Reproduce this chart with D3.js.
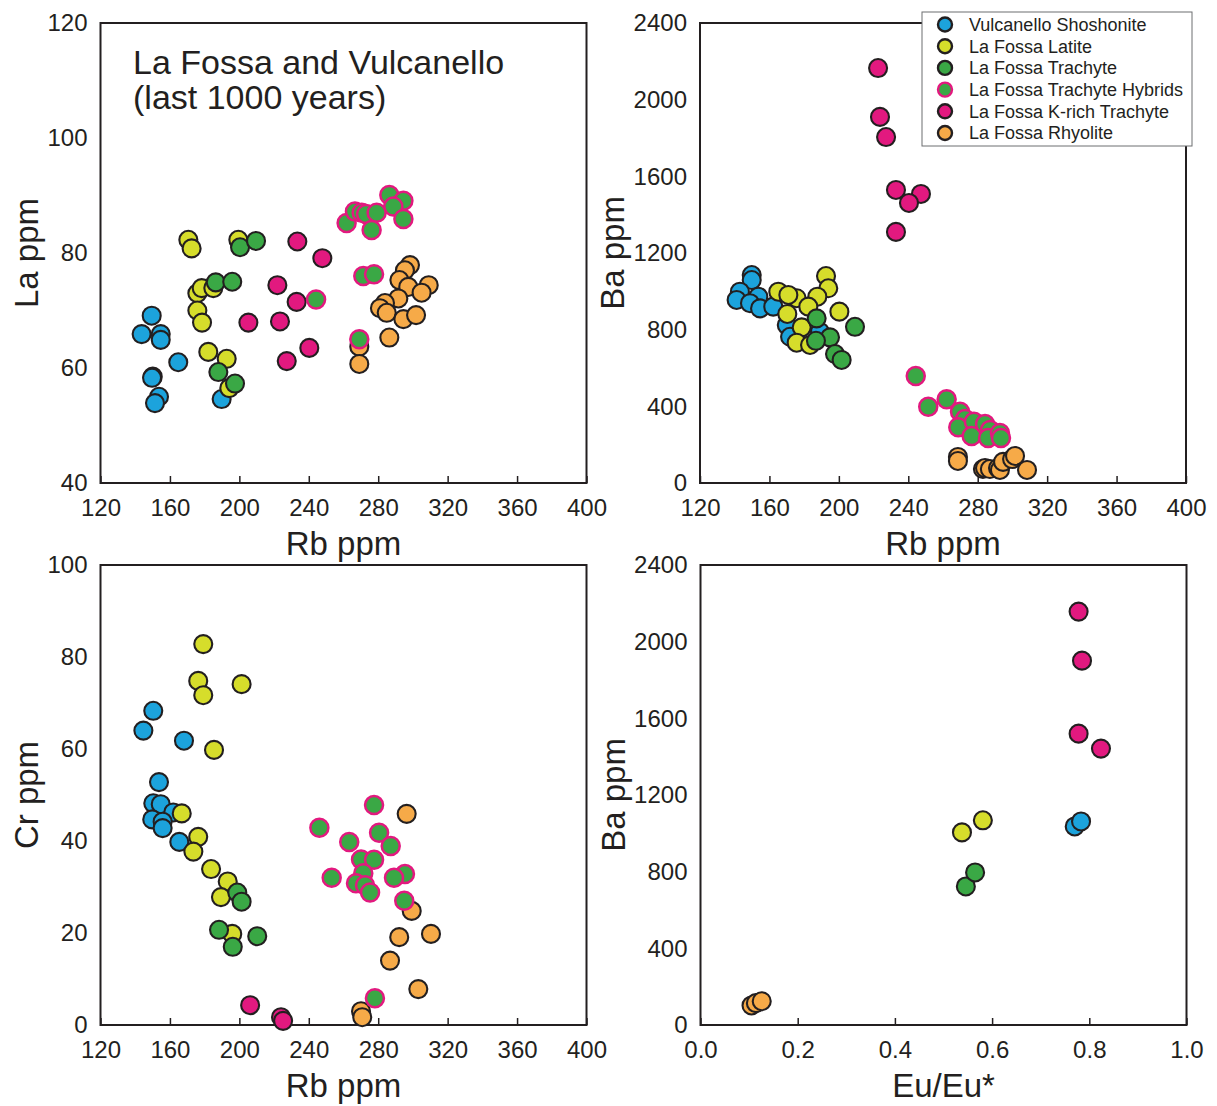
<!DOCTYPE html>
<html>
<head>
<meta charset="utf-8">
<script src="https://cdn.jsdelivr.net/npm/d3@7"></script>
<style>
  body { margin: 0; background: #fff; }
  svg text { font-family: "Liberation Sans", Arial, Helvetica, sans-serif; fill: #231f20; }
</style>
</head>
<body>
<div id="chart"></div>
<script>
// tick labels
var rbTicks = [120, 160, 200, 240, 280, 320, 360, 400];
var laTicks = [40, 60, 80, 100, 120];
var baTicks = [0, 400, 800, 1200, 1600, 2000, 2400];
var crTicks = [0, 20, 40, 60, 80, 100];
var euTicks = [0, 0.2, 0.4, 0.6, 0.8, 1.0];

var seriesNames = ["Vulcanello Shoshonite", "La Fossa Latite", "La Fossa Trachyte",
                   "La Fossa Trachyte Hybrids", "La Fossa K-rich Trachyte", "La Fossa Rhyolite"];

// ---- La vs Rb  [Rb, La]
var shoshRbLa = [[149.5,69.1],[143.7,65.9],[154.7,65.9],[154.7,64.9],[164.8,61.0],[150.1,58.5],[149.7,58.3],[153.7,55.0],[151.4,53.9],[189.8,54.6]];
var latiteRbLa = [[170.6,82.3],[172.5,80.8],[199.4,82.3],[175.8,73.0],[178.3,73.9],[185.0,73.9],[175.8,70.0],[178.5,67.9],[182.1,62.8],[192.7,61.6],[194.2,56.5]];
var trachRbLa = [[200.4,81.0],[209.6,82.1],[186.4,74.9],[195.9,75.0],[187.9,59.3],[197.5,57.3]];
var hybridRbLa = [[244.2,71.9],[261.8,85.2],[266.6,87.2],[270.5,87.0],[273.0,86.8],[279.1,87.0],[276.2,84.0],[286.4,90.1],[294.5,89.1],[288.7,88.1],[294.5,85.9],[271.4,76.0],[277.6,76.3],[269.1,65.0]];
var kTrachRbLa = [[233.4,82.0],[247.8,79.1],[221.9,74.4],[233.0,71.5],[205.2,67.9],[223.4,68.1],[240.3,63.5],[227.3,61.2]];
var rhyoRbLa = [[269.1,63.7],[269.1,60.7],[298.3,77.9],[295.4,77.0],[292.2,75.3],[297.3,74.1],[309.1,74.4],[305.0,73.1],[291.6,72.1],[283.9,71.3],[281.0,70.4],[284.9,69.6],[294.5,68.5],[301.8,69.2],[286.4,65.3]];

// ---- Ba vs Rb  [Rb, Ba]
var shoshRbBa = [[149.8,1085],[149.8,1059],[143.0,998],[141.1,955],[153.6,972],[148.8,938],[154.6,911],[162.2,920],[170.0,824],[171.9,763],[189.1,789]];
var latiteRbBa = [[192.6,1080],[193.9,1016],[187.6,972],[165.1,998],[175.7,964],[170.9,981],[182.4,920],[170.3,882],[200.3,894],[178.6,812],[175.7,732],[183.4,720]];
var trachRbBa = [[187.2,859],[209.3,815],[194.9,760],[186.8,742],[197.8,673],[201.6,642]];
var hybridRbBa = [[244.3,558],[251.5,398],[262.1,437],[269.8,372],[272.7,334],[268.8,291],[277.8,320],[276.5,245],[284.2,308],[287.1,277],[286.0,235],[292.8,261],[293.4,235]];
var kTrachRbBa = [[222.6,2165],[223.7,1910],[227.2,1805],[232.9,1529],[247.3,1508],[240.4,1461],[232.9,1310]];
var rhyoRbBa = [[268.6,136],[268.6,115],[283.0,73],[284.2,78],[287.0,73],[291.7,78],[292.8,68],[294.6,110],[299.8,125],[301.5,141],[308.4,68]];

// ---- Cr vs Rb  [Rb, Cr]
var shoshRbCr = [[150.4,68.3],[144.7,64.0],[168.1,61.8],[153.7,52.8],[150.4,48.2],[154.7,48.0],[161.9,46.2],[149.8,44.7],[155.8,44.2],[155.8,42.8],[165.4,39.8]];
var latiteRbCr = [[179.2,82.8],[176.3,74.8],[179.2,71.7],[201.3,74.1],[185.4,59.8],[166.8,46.0],[176.3,40.9],[173.5,37.7],[183.7,33.9],[193.3,31.2],[189.4,27.8],[195.9,19.8]];
var trachRbCr = [[198.8,28.8],[201.3,26.8],[188.3,20.7],[196.2,17.0],[210.3,19.3]];
var hybridRbCr = [[277.6,47.8],[246.1,42.9],[263.3,39.8],[280.5,41.8],[287.2,38.9],[270.1,36.0],[277.6,35.9],[253.2,32.0],[271.4,33.0],[267.2,30.8],[272.4,30.4],[275.3,28.8],[295.4,32.8],[289.1,32.0],[295.0,27.0],[278.1,5.8]];
var kTrachRbCr = [[206.2,4.3],[224.0,1.7],[225.2,0.9]];
var rhyoRbCr = [[296.4,45.9],[299.3,24.8],[310.4,19.8],[292.1,19.1],[286.8,14.0],[303.1,7.8],[270.1,3.0],[270.8,1.7]];

// ---- Ba vs Eu/Eu*  [Eu/Eu*, Ba]
var shoshEuBa = [[0.770,1036],[0.783,1062]];
var latiteEuBa = [[0.538,1005],[0.581,1068]];
var trachEuBa = [[0.546,723],[0.565,796]];
var hybridEuBa = [];
var kTrachEuBa = [[0.778,2157],[0.785,1901],[0.778,1520],[0.824,1442]];
var rhyoEuBa = [[0.105,102],[0.114,114],[0.126,124]];

(function() {

    var fills = ["#1ca3dc", "#d6dd2b", "#3aa845", "#3aa845", "#e2197f", "#f6aa48"];
    var strokes = ["#231f20", "#231f20", "#231f20", "#e2197f", "#231f20", "#231f20"];
    // drawing order: rhyolite first, hybrids last
    var order = [5, 0, 1, 2, 4, 3];

    var pw = 486, ph = 460;

    var svg = d3.select("#chart").append("svg")
        .attr("width", 1217)
        .attr("height", 1106);

    var panels = [
        {left: 100.5, top: 23, xd: [120, 400], yd: [40, 120], xt: rbTicks, yt: laTicks, xl: "Rb ppm", yl: "La ppm", yo: -63, fmt: d3.format("d"),
         sets: [shoshRbLa, latiteRbLa, trachRbLa, hybridRbLa, kTrachRbLa, rhyoRbLa]},
        {left: 700, top: 23, xd: [120, 400], yd: [0, 2400], xt: rbTicks, yt: baTicks, xl: "Rb ppm", yl: "Ba ppm", yo: -76, fmt: d3.format("d"),
         sets: [shoshRbBa, latiteRbBa, trachRbBa, hybridRbBa, kTrachRbBa, rhyoRbBa]},
        {left: 100.5, top: 565, xd: [120, 400], yd: [0, 100], xt: rbTicks, yt: crTicks, xl: "Rb ppm", yl: "Cr ppm", yo: -63, fmt: d3.format("d"),
         sets: [shoshRbCr, latiteRbCr, trachRbCr, hybridRbCr, kTrachRbCr, rhyoRbCr]},
        {left: 700.5, top: 565, xd: [0, 1], yd: [0, 2400], xt: euTicks, yt: baTicks, xl: "Eu/Eu*", yl: "Ba ppm", yo: -76, fmt: d3.format(".1f"),
         sets: [shoshEuBa, latiteEuBa, trachEuBa, hybridEuBa, kTrachEuBa, rhyoEuBa]}
    ];

    panels.forEach(function(p) {
        var g = svg.append("g").attr("transform", "translate(" + p.left + "," + p.top + ")");
        var x = d3.scaleLinear().domain(p.xd).range([0, pw]);
        var y = d3.scaleLinear().domain(p.yd).range([ph, 0]);

        var xAxis = g.append("g")
            .attr("transform", "translate(0," + ph + ")")
            .call(d3.axisBottom(x).tickValues(p.xt).tickFormat(p.fmt).tickSize(-7).tickPadding(16));
        var yAxis = g.append("g")
            .call(d3.axisLeft(y).tickValues(p.yt).tickFormat(d3.format("d")).tickSize(0).tickPadding(13));

        [xAxis, yAxis].forEach(function(a) {
            a.select(".domain").remove();
            a.selectAll("line").attr("stroke", "#231f20").attr("stroke-width", 1.5);
            a.selectAll("text").attr("font-size", 24).attr("fill", "#231f20")
              .style("font-family", "'Liberation Sans', Arial, sans-serif");
        });

        g.append("rect")
            .attr("width", pw).attr("height", ph)
            .attr("fill", "none")
            .attr("stroke", "#231f20")
            .attr("stroke-width", 2);

        g.append("text")
            .attr("x", pw / 2).attr("y", ph + 72)
            .attr("text-anchor", "middle")
            .attr("font-size", 33)
            .text(p.xl);

        g.append("text")
            .attr("transform", "translate(" + p.yo + "," + (ph / 2) + ") rotate(-90)")
            .attr("text-anchor", "middle")
            .attr("font-size", 33)
            .text(p.yl);

        order.forEach(function(si) {
            g.append("g").selectAll("circle")
                .data(p.sets[si])
                .enter()
                .append("circle")
                .attr("cx", function(d) { return x(d[0]) })
                .attr("cy", function(d) { return y(d[1]) })
                .attr("r", 9)
                .attr("fill", fills[si])
                .attr("stroke", strokes[si])
                .attr("stroke-width", si === 3 ? 2.5 : 2.1);
        });
    });

    // title in first panel
    var t = svg.append("text")
        .attr("x", 133).attr("y", 74)
        .attr("font-size", 34);
    t.append("tspan").attr("x", 133).text("La Fossa and Vulcanello");
    t.append("tspan").attr("x", 133).attr("dy", 35).text("(last 1000 years)");

    // legend
    var lg = svg.append("g").attr("transform", "translate(922,12)");
    lg.append("rect")
        .attr("width", 270).attr("height", 134)
        .attr("fill", "#fff")
        .attr("stroke", "#6d6e71")
        .attr("stroke-width", 1);
    var rows = lg.selectAll(".row")
        .data(seriesNames)
        .enter()
        .append("g")
        .attr("class", "row")
        .attr("transform", function(d, i) { return "translate(0," + (12.5 + i * 21.7) + ")" });
    rows.append("circle")
        .attr("cx", 23).attr("cy", 0).attr("r", 7)
        .attr("fill", function(d, i) { return fills[i] })
        .attr("stroke", function(d, i) { return strokes[i] })
        .attr("stroke-width", 2.4);
    rows.append("text")
        .attr("x", 47).attr("y", 6.3)
        .attr("font-size", 18)
        .text(function(d) { return d });

})();
</script>
</body>
</html>
